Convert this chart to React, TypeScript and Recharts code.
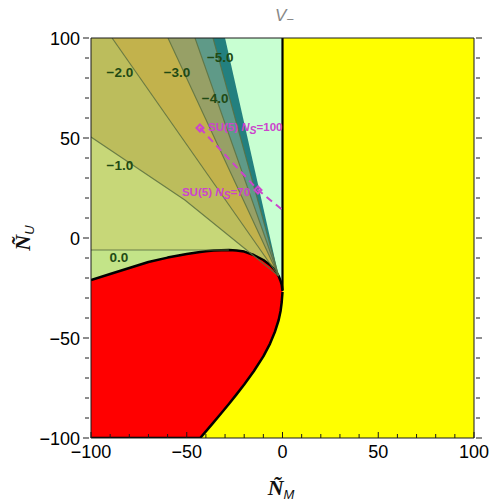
import { ComposedChart, Area, Line, Scatter, XAxis, YAxis } from "recharts";

const WIDTH = 491;
const HEIGHT = 501;

// frame ticks (every 10, labelled every 50)
const frameTicks = [-100, -90, -80, -70, -60, -50, -40, -30, -20, -10, 0, 10, 20, 30, 40, 50, 60, 70, 80, 90, 100];
const labeledTicks = [-100, -50, 0, 50, 100];

// regions as (x, [lower, upper]), painted back to front
const fullPlane = [
  { x: -100, r: [-100, 100] },
  { x: 100, r: [-100, 100] },
];
const mintRegion = [
  { x: -100, r: [-22, 100] },
  { x: 0, r: [-22, 100] },
];
const tealBand = [
  { x: -100, r: [-22, 100] },
  { x: -30, r: [-22, 100] },
  { x: -2, r: [-22, -19] },
];
const band5 = [
  { x: -100, r: [-22, 100] },
  { x: -36.3, r: [-22, 100] },
  { x: -2, r: [-22, -19] },
];
const band4 = [
  { x: -100, r: [-22, 100] },
  { x: -45.7, r: [-22, 100] },
  { x: -2, r: [-22, -19] },
];
const band3 = [
  { x: -100, r: [-22, 100] },
  { x: -59.8, r: [-22, 100] },
  { x: -2, r: [-22, -19] },
];
const band2 = [
  { x: -100, r: [-22, 100] },
  { x: -89, r: [-22, 100] },
  { x: -2, r: [-22, -19] },
];
const band1 = [
  { x: -100, r: [-22, 50.5] },
  { x: -51, r: [-22, 19] },
  { x: -2, r: [-22, -19] },
];
const band0 = [
  { x: -100, r: [-22, -6] },
  { x: -28, r: [-22, -6] },
];

// excluded (red) region: lower and upper boundary
const redRegion = [
  { x: -100, r: [-100, -21] },
  { x: -90, r: [-100, -18] },
  { x: -80, r: [-100, -15] },
  { x: -70, r: [-100, -12] },
  { x: -60, r: [-100, -9.8] },
  { x: -50, r: [-100, -8] },
  { x: -43, r: [-100, -7] },
  { x: -40, r: [-96.7, -6.6] },
  { x: -36, r: [-92.2, -6.3] },
  { x: -32, r: [-87.6, -6.1] },
  { x: -28, r: [-83, -6] },
  { x: -24, r: [-78.2, -6.2] },
  { x: -20, r: [-73.2, -6.8] },
  { x: -15, r: [-66.6, -8.5] },
  { x: -10, r: [-59.2, -11] },
  { x: -6.5, r: [-52.8, -13.5] },
  { x: -4, r: [-47, -16] },
  { x: -2, r: [-41, -19] },
  { x: -1, r: [-36.5, -21.5] },
  { x: -0.4, r: [-32, -23.5] },
  { x: 0, r: [-27, -26.5] },
];

// contour lines
const contour0 = [{ x: -100, y: -6 }, { x: -28, y: -6 }];
const contour1 = [{ x: -100, y: 50.5 }, { x: -51, y: 19 }, { x: -2, y: -19 }];
const contour2 = [{ x: -89, y: 100 }, { x: -2, y: -19 }];
const contour3 = [{ x: -59.8, y: 100 }, { x: -2, y: -19 }];
const contour4 = [{ x: -45.7, y: 100 }, { x: -2, y: -19 }];
const contour5 = [{ x: -36.3, y: 100 }, { x: -2, y: -19 }];
const boundaryLine = [{ x: 0, y: 100 }, { x: 0, y: -26 }];

const contourLabels = [
  { x: -84.9, y: 83, label: "−2.0" },
  { x: -55.1, y: 83, label: "−3.0" },
  { x: -32.5, y: 90.5, label: "−5.0" },
  { x: -35.2, y: 70, label: "−4.0" },
  { x: -84.9, y: 36.5, label: "−1.0" },
  { x: -85.5, y: -9.5, label: "0.0" },
];

// SU(5) benchmark
const suLine = [{ x: -43.1, y: 55 }, { x: -12.8, y: 24 }, { x: 0, y: 14 }];
const suPoints = [{ x: -43.1, y: 55 }, { x: -12.8, y: 24 }];
const suLabels = [
  { x: -38.9, y: 53.5, ns: "100" },
  { x: -52.5, y: 21, ns: "70" },
];

const YELLOW = "#ffff00";
const RED = "#ff0000";
const MINT = "#c8ffd2";
const TEAL = "#23807f";
const C5 = "#5f9a88";
const C4 = "#97a066";
const C3 = "#c2b24c";
const C2 = "#bcbd5c";
const C1 = "#c7d778";
const C0 = "#c3e488";
const LINE = "#5a7040";
const MAGENTA = "#cc44cc";
const FRAME = "#1a1a1a";
const FONT = "'Liberation Sans', Arial, sans-serif";

const fmt = (v: number) => (v < 0 ? `−${Math.abs(v)}` : `${v}`);

function BottomTick(props: any) {
  const { x, y, payload } = props;
  const major = labeledTicks.includes(payload.value);
  return (
    <g>
      <line x1={x} y1={y} x2={x} y2={y - (major ? 6 : 4)} stroke={FRAME} />
      {major && (
        <text x={x} y={y + 20} textAnchor="middle" fontSize={18} fontFamily={FONT} fill="#000">
          {fmt(payload.value)}
        </text>
      )}
    </g>
  );
}

function TopTick(props: any) {
  const { x, y, payload } = props;
  const major = labeledTicks.includes(payload.value);
  return <line x1={x} y1={y} x2={x} y2={y + (major ? 6 : 4)} stroke={FRAME} />;
}

function LeftTick(props: any) {
  const { x, y, payload } = props;
  const major = labeledTicks.includes(payload.value);
  return (
    <g>
      <line x1={x - 2} y1={y} x2={x - (major ? 8 : 6)} y2={y} stroke={FRAME} />
      {major && (
        <text x={x - 11} y={y + 6.5} textAnchor="end" fontSize={18} fontFamily={FONT} fill="#000">
          {fmt(payload.value)}
        </text>
      )}
    </g>
  );
}

function RightTick(props: any) {
  const { x, y, payload } = props;
  const major = labeledTicks.includes(payload.value);
  return <line x1={x + 2} y1={y} x2={x + (major ? 8 : 6)} y2={y} stroke={FRAME} />;
}

function ContourLabel(props: any) {
  const { cx, cy, payload } = props;
  return (
    <text x={cx} y={cy} dy="0.35em" textAnchor="middle" fontSize={13.5} fontWeight="bold" fontFamily={FONT} fill="#1f4a14">
      {payload.label}
    </text>
  );
}

function SuLabel(props: any) {
  const { cx, cy, payload } = props;
  return (
    <text x={cx} y={cy} fontSize={11.5} fontWeight="bold" fontFamily={FONT} fill={MAGENTA}>
      SU(5) <tspan fontStyle="italic">N</tspan>
      <tspan dy={3} fontSize={10.5} fontStyle="italic">S</tspan>
      <tspan dy={-3}>={payload.ns}</tspan>
    </text>
  );
}

function Diamond(props: any) {
  const { cx, cy } = props;
  const s = 3.5;
  return (
    <path
      d={`M${cx},${cy - s}L${cx + s},${cy}L${cx},${cy + s}L${cx - s},${cy}Z`}
      fill="none"
      stroke={MAGENTA}
      strokeWidth={2}
    />
  );
}

const band = (data: any[], fill: string, key: string) => (
  <Area
    key={key}
    data={data}
    dataKey="r"
    type="linear"
    fill={fill}
    fillOpacity={1}
    stroke="none"
    isAnimationActive={false}
    activeDot={false}
    dot={false}
  />
);

const contour = (data: any[], key: string) => (
  <Line
    key={key}
    data={data}
    dataKey="y"
    type="linear"
    stroke={LINE}
    strokeOpacity={0.85}
    strokeWidth={1.1}
    dot={false}
    activeDot={false}
    isAnimationActive={false}
  />
);

export default function App() {
  return (
    <div style={{ position: "absolute", left: 0, top: 0, width: WIDTH, height: HEIGHT, background: "#fff" }}>
      <ComposedChart width={WIDTH} height={HEIGHT} margin={{ top: 8, right: 0, bottom: 0, left: 0 }}>
        <XAxis
          dataKey="x"
          type="number"
          domain={[-100, 100]}
          allowDataOverflow
          ticks={frameTicks}
          interval={0}
          tickSize={0}
          tickMargin={0}
          tickLine={false}
          height={63}
          axisLine={{ stroke: FRAME }}
          tick={<BottomTick />}
        />
        <XAxis
          xAxisId="top"
          orientation="top"
          type="number"
          domain={[-100, 100]}
          allowDataOverflow
          ticks={frameTicks}
          interval={0}
          tickSize={0}
          tickMargin={0}
          tickLine={false}
          height={30}
          axisLine={{ stroke: FRAME }}
          tick={<TopTick />}
        />
        <YAxis
          dataKey="y"
          type="number"
          domain={[-100, 100]}
          allowDataOverflow
          ticks={frameTicks}
          interval={0}
          tickSize={0}
          tickMargin={0}
          tickLine={false}
          width={91}
          axisLine={{ stroke: FRAME }}
          tick={<LeftTick />}
        />
        <YAxis
          yAxisId="right"
          orientation="right"
          type="number"
          domain={[-100, 100]}
          allowDataOverflow
          ticks={frameTicks}
          interval={0}
          tickSize={0}
          tickMargin={0}
          tickLine={false}
          width={17}
          axisLine={{ stroke: FRAME }}
          tick={<RightTick />}
        />

        {band(fullPlane, YELLOW, "yellow")}
        {band(mintRegion, MINT, "mint")}
        {band(tealBand, TEAL, "teal")}
        {band(band5, C5, "b5")}
        {band(band4, C4, "b4")}
        {band(band3, C3, "b3")}
        {band(band2, C2, "b2")}
        {band(band1, C1, "b1")}
        {band(band0, C0, "b0")}
        <Area
          data={redRegion}
          dataKey="r"
          type="linear"
          fill={RED}
          fillOpacity={1}
          stroke="#000"
          strokeWidth={2.5}
          strokeLinejoin="round"
          dot={false}
          activeDot={false}
          isAnimationActive={false}
        />

        {contour(contour0, "c0")}
        {contour(contour1, "c1")}
        {contour(contour2, "c2")}
        {contour(contour3, "c3")}
        {contour(contour4, "c4")}
        {contour(contour5, "c5")}
        <Line
          data={boundaryLine}
          dataKey="y"
          stroke="#000"
          strokeWidth={2.2}
          dot={false}
          activeDot={false}
          isAnimationActive={false}
        />
        <Line
          data={suLine}
          dataKey="y"
          stroke={MAGENTA}
          strokeWidth={2}
          strokeDasharray="7 5"
          dot={false}
          activeDot={false}
          isAnimationActive={false}
        />
        <Scatter data={suPoints} shape={<Diamond />} isAnimationActive={false} />
        <Scatter data={contourLabels} shape={<ContourLabel />} isAnimationActive={false} />
        <Scatter data={suLabels} shape={<SuLabel />} isAnimationActive={false} />
      </ComposedChart>
      <svg
        width={WIDTH}
        height={HEIGHT}
        style={{ position: "absolute", left: 0, top: 0, pointerEvents: "none" }}
      >
        <text x={275} y={21} fontSize={17} fontStyle="italic" fontFamily={FONT} fill="#888">
          V<tspan dy={3} fontSize={13}>−</tspan>
        </text>
        <text
          x={281}
          y={495}
          textAnchor="middle"
          fontSize={22}
          fontFamily="'Liberation Serif', serif"
          fontStyle="italic"
          fontWeight="bold"
          fill="#111"
        >
          Ñ<tspan dy={4} fontSize={13} fontWeight="normal" fontFamily={FONT}>M</tspan>
        </text>
        <text
          transform="translate(30,238) rotate(-90)"
          textAnchor="middle"
          fontSize={22}
          fontFamily="'Liberation Serif', serif"
          fontStyle="italic"
          fontWeight="bold"
          fill="#111"
        >
          Ñ<tspan dy={4} fontSize={13} fontWeight="normal" fontFamily={FONT}>U</tspan>
        </text>
      </svg>
    </div>
  );
}
